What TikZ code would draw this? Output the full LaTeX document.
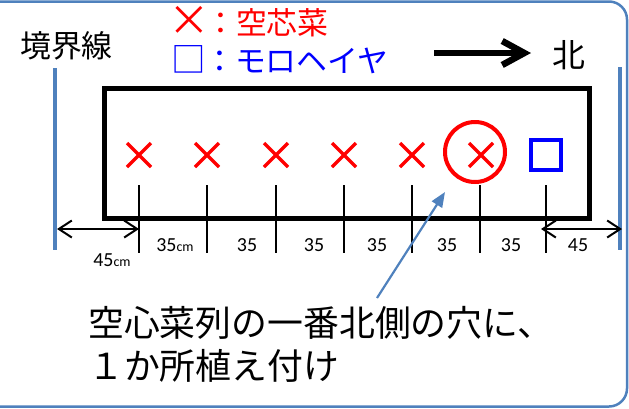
\documentclass[tikz,border=0pt]{standalone}
\usepackage{fontspec}
\setmainfont{Carlito}
\newfontfamily\jp{Noto Sans CJK JP}
\usetikzlibrary{arrows.meta}
\definecolor{frameblue}{HTML}{4F81BD}
\definecolor{markred}{HTML}{FF0000}
\definecolor{markblue}{HTML}{0000FF}
\begin{document}
\begin{tikzpicture}[x=1bp,y=-1bp,
  lbl/.style={inner sep=0pt, font=\fontsize{20}{20}\selectfont},
  jptext/.style={inner sep=0pt, font=\jp\fontsize{31}{31}\selectfont},
  notetext/.style={inner sep=0pt, anchor=west, font=\jp\fontsize{36}{36}\selectfont},
  crossmark/.style={markred, line width=3.5bp},
  tickline/.style={line width=1.5bp},
  boundary/.style={frameblue, line width=4bp},
  dimarrow/.style={line width=2bp, {Straight Barb[length=13bp,width=17bp]}-{Straight Barb[length=13bp,width=17bp]}}
]
\useasboundingbox (0,0) rectangle (629,408);
% outer frame
\draw[frameblue, line width=2.5bp, rounded corners=18bp] (-40,1.5) rectangle (627,406.5);

% boundary lines
\coordinate (bl1) at (55,68);
\coordinate (bl2) at (55,250);
\coordinate (br1) at (620,67);
\coordinate (br2) at (620,250);
\draw[boundary] (bl1) -- (bl2);
\draw[boundary] (br1) -- (br2);

% bed
\node[draw, line width=5bp, minimum width=484bp, minimum height=130bp, inner sep=0pt] (bed) at (347,153) {};

% ticks
\foreach \i/\x in {0/139,1/207,2/276,3/344,4/412,5/480,6/546} {
  \coordinate (t\i a) at (\x,185);
  \coordinate (t\i b) at (\x,253);
  \draw[tickline] (t\i a) -- (t\i b);
}

% crosses
\foreach \x in {139,207,276,344,412,481} {
  \draw[crossmark] (\x-12,143) -- (\x+12,167) (\x-12,167) -- (\x+12,143);
}
\node[circle, draw=markred, line width=4bp, minimum size=60bp, inner sep=0pt] (circ) at (475,152) {};
\node[draw=markblue, line width=4bp, minimum size=30bp, inner sep=0pt] (sq) at (546,155) {};

% dimension arrows
\coordinate (dl1) at (57,229);
\coordinate (dl2) at (139,229);
\coordinate (dr1) at (541,229);
\coordinate (dr2) at (622,229);
\draw[dimarrow] (dl1) -- (dl2);
\draw[dimarrow] (dr1) -- (dr2);

% labels
\node[lbl] (l0) at (175,245) {35{\fontsize{14}{14}\selectfont cm}};
\node[lbl] (l1) at (247,245) {35};
\node[lbl] (l2) at (314,245) {35};
\node[lbl] (l3) at (377,245) {35};
\node[lbl] (l4) at (447,245) {35};
\node[lbl] (l5) at (511,245) {35};
\node[lbl] (l6) at (578,245) {45};
\node[lbl] (l7) at (112,260) {45{\fontsize{14}{14}\selectfont cm}};

% top texts
\node[jptext, anchor=west] (kyokai) at (20,46) {境界線};
\node[jptext, anchor=west, text=markred] (leg1) at (174,22) {\makebox[31bp]{\raisebox{-1bp}{\scalebox{1.35}{×}}}：空芯菜};
\node[jptext, anchor=west, text=markblue] (leg2) at (173,60) {\makebox[31bp]{\scalebox{1.12}{□}}：モロヘイヤ};
\coordinate (nA) at (434,53);
\coordinate (nB) at (531,53);
\draw[line width=6.5bp, -{Straight Barb[length=22bp,width=24bp]}] (nA) -- (nB);
\node[jptext, font=\jp\fontsize{33}{33}\selectfont] (kita) at (569,55) {北};

% note
\node[notetext] (note1) at (88,323) {空心菜列の一番北側の穴に、};
\node[notetext] (note2) at (88,366) {１か所植え付け};
\coordinate (ptail) at (377,298);
\coordinate (ptip) at (445,192);
\draw[frameblue, line width=2.2bp, -{Triangle[length=15bp,width=12bp]}] (ptail) -- (ptip);
\end{tikzpicture}
\end{document}
